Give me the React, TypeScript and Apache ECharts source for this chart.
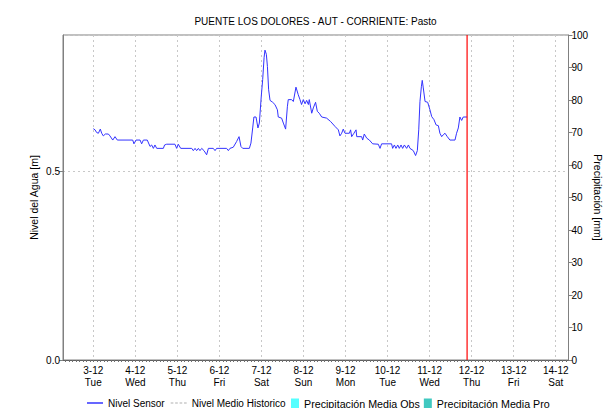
import React, { useEffect, useRef } from "react";
import * as echarts from "echarts";

const TITLE = "PUENTE LOS DOLORES - AUT - CORRIENTE: Pasto";
// x axis is in hours after 3-12 00:00; one tick label per day
const dayTickHours = [0, 24, 48, 72, 96, 120, 144, 168, 192, 216, 240, 264];
const dayLabels = [
  "3-12\nTue", "4-12\nWed", "5-12\nThu", "6-12\nFri", "7-12\nSat", "8-12\nSun",
  "9-12\nMon", "10-12\nTue", "11-12\nWed", "12-12\nThu", "13-12\nFri", "14-12\nSat",
];
const axisMinHours = -17.3;
const axisMaxHours = 271.3;
const levelMax = 0.86;
const nowHours = 213.4;

const sensorHours = [
  0.0, 1.0, 1.9, 2.9, 4.0, 4.8, 5.7, 6.9, 8.6, 9.5, 11.1, 12.4, 13.7, 22.5, 23.2, 24.4,
  26.7, 27.6, 28.6, 30.8, 32.4, 33.3, 34.3, 35.2, 36.2, 40.0, 40.7, 41.9, 46.6, 47.6, 48.5,
  49.9, 56.2, 57.1, 58.1, 59.0, 60.0, 60.9, 61.9, 63.2, 64.7, 65.7, 68.5, 69.5, 70.4, 76.1,
  77.1, 78.0, 79.9, 81.8, 83.2, 84.3, 85.3, 89.1, 90.0, 91.0, 91.7, 92.9, 94.0, 94.8, 95.9,
  96.7, 97.5, 98.0, 98.8, 99.4, 100.1, 100.9, 102.4, 103.7, 105.1, 105.6, 107.5, 108.5,
  109.8, 110.8, 111.3, 113.2, 114.2, 115.7, 117.0, 118.0, 118.9, 119.9, 120.9, 121.8,
  122.8, 123.3, 124.7, 125.6, 126.9, 127.9, 129.0, 130.4, 133.2, 135.5, 138.0, 139.9,
  140.8, 141.8, 142.7, 143.7, 146.2, 146.9, 147.5, 148.8, 150.0, 150.4, 153.2, 153.8,
  154.7, 156.1, 157.6, 159.5, 162.7, 163.7, 164.6, 170.3, 170.9, 171.9, 172.8, 173.8,
  174.7, 175.7, 176.6, 177.6, 178.9, 179.9, 180.8, 182.7, 184.0, 185.0, 185.8, 186.5,
  187.3, 187.8, 188.4, 189.4, 190.9, 192.2, 193.2, 194.5, 195.7, 197.0, 197.9, 198.9,
  199.8, 200.8, 202.1, 203.6, 206.5, 207.4, 208.4, 209.3, 210.3, 211.2, 212.2, 213.4,
];
const sensorLevels = [
  0.612, 0.609, 0.602, 0.6, 0.611, 0.6, 0.593, 0.598, 0.598, 0.593, 0.582, 0.591, 0.582,
  0.582, 0.572, 0.582, 0.582, 0.572, 0.582, 0.582, 0.565, 0.569, 0.56, 0.569, 0.56, 0.56,
  0.569, 0.571, 0.571, 0.56, 0.571, 0.56, 0.56, 0.554, 0.56, 0.554, 0.56, 0.554, 0.56,
  0.554, 0.543, 0.56, 0.56, 0.554, 0.56, 0.56, 0.554, 0.56, 0.563, 0.578, 0.591, 0.565,
  0.56, 0.56, 0.574, 0.614, 0.643, 0.643, 0.614, 0.627, 0.698, 0.742, 0.8, 0.82, 0.809,
  0.777, 0.715, 0.687, 0.682, 0.676, 0.662, 0.643, 0.64, 0.627, 0.611, 0.67, 0.689,
  0.689, 0.684, 0.722, 0.702, 0.689, 0.676, 0.689, 0.678, 0.687, 0.676, 0.689, 0.653,
  0.667, 0.682, 0.658, 0.653, 0.643, 0.64, 0.631, 0.618, 0.609, 0.593, 0.6, 0.611, 0.6,
  0.6, 0.609, 0.591, 0.6, 0.609, 0.591, 0.591, 0.582, 0.598, 0.587, 0.582, 0.572, 0.571,
  0.56, 0.572, 0.572, 0.56, 0.569, 0.56, 0.569, 0.56, 0.569, 0.56, 0.569, 0.56, 0.569,
  0.56, 0.554, 0.541, 0.554, 0.609, 0.684, 0.723, 0.74, 0.72, 0.684, 0.682, 0.662, 0.644,
  0.636, 0.622, 0.62, 0.6, 0.591, 0.596, 0.6, 0.591, 0.582, 0.582, 0.6, 0.614, 0.643,
  0.634, 0.643, 0.643, 0.643,
];
const historicLevels: number[] = [];
const precipObs: number[] = [];
const precipPro: number[] = [];

const FONT = "'Liberation Sans', Arial, sans-serif";

export default function App() {
  const ref = useRef<HTMLDivElement>(null);
  useEffect(() => {
    if (!ref.current) return;
    const chart = echarts.init(ref.current, null, { renderer: "svg" });
    const sensorData = sensorHours.map((h, i) => [h, sensorLevels[i]]);
    const nowLine = [[nowHours, 0], [nowHours, levelMax]];
    const minorTickHours: number[] = [];
    for (let h = -16; h <= axisMaxHours; h += 2) minorTickHours.push(h);

    chart.setOption({
      animation: false,
      backgroundColor: "#ffffff",
      textStyle: { fontFamily: FONT },
      title: {
        text: TITLE,
        left: 315.5,
        textAlign: "center",
        top: 16,
        padding: 0,
        textStyle: { fontSize: 10, fontWeight: "normal", color: "#000", fontFamily: FONT },
      },
      grid: {
        left: 63,
        right: 34.5,
        top: 35,
        bottom: 48,
        show: true,
        borderColor: "#808080",
        borderWidth: 1,
        containLabel: false,
        outerBoundsMode: "none",
      },
      legend: [
        {
          data: [
            { name: "Nivel Sensor", icon: "rect", itemStyle: { color: "#0000ff" } },
            {
              name: "Nivel Medio Historico",
              icon: "path://M0,0h3v1h-3z M5,0h3v1h-3z M10,0h3v1h-3z M15,0h3v1h-3z",
              itemStyle: { color: "#b0b0b0" },
            },
          ],
          left: 87,
          top: 398,
          padding: 0,
          itemWidth: 16,
          itemHeight: 1.2,
          itemGap: 6,
          textStyle: { fontSize: 10, color: "#000", fontFamily: FONT },
        },
        {
          data: [
            { name: "Precipitación Media Obs", icon: "rect" },
            { name: "Precipitación Media Pro", icon: "rect" },
          ],
          left: 291,
          top: 398,
          padding: 0,
          itemWidth: 8,
          itemHeight: 10,
          itemGap: 4,
          textStyle: { fontSize: 10.7, color: "#000", fontFamily: FONT },
        },
      ],
      xAxis: [
        {
          type: "value",
          min: axisMinHours,
          max: axisMaxHours,
          axisLine: { onZero: false, lineStyle: { color: "#606060" } },
          axisTick: { show: false, customValues: dayTickHours },
          splitLine: { show: true, lineStyle: { color: "#c8c8c8", type: [2, 3] } },
          axisLabel: {
            customValues: dayTickHours,
            fontSize: 10,
            color: "#000",
            lineHeight: 12,
            margin: 4,
            formatter: (v: number) => dayLabels[dayTickHours.indexOf(Math.round(v))] ?? "",
          },
        },
        {
          type: "value",
          position: "bottom",
          min: axisMinHours,
          max: axisMaxHours,
          axisLine: { show: false, onZero: false },
          axisTick: { show: true, length: 2, inside: false, customValues: minorTickHours, lineStyle: { color: "#707070" } },
          axisLabel: { show: false },
          splitLine: { show: false },
        },
      ],
      yAxis: [
        {
          type: "value",
          min: 0,
          max: levelMax,
          interval: 0.5,
          name: "Nivel del Agua [m]",
          nameLocation: "middle",
          nameGap: 24,
          nameMoveOverlap: false,
          nameTextStyle: { fontSize: 10.5, color: "#000", fontFamily: FONT },
          axisLine: { show: true, onZero: false, lineStyle: { color: "#808080" } },
          axisTick: { show: true, length: 4, lineStyle: { color: "#808080" } },
          axisLabel: {
            fontSize: 10,
            color: "#000",
            margin: 3,
            showMaxLabel: false,
            formatter: (v: number) => (v === 0 || v === 0.5 ? v.toFixed(1) : ""),
          },
          splitLine: { show: true, lineStyle: { color: "#c8c8c8", type: [2, 3] } },
        },
        {
          type: "value",
          position: "right",
          min: 0,
          max: 100,
          interval: 10,
          name: "Precipitación [mm]",
          nameLocation: "middle",
          nameRotate: -90,
          nameGap: 24,
          nameMoveOverlap: false,
          nameTextStyle: { fontSize: 10.5, color: "#000", fontFamily: FONT },
          axisLine: { show: true, onZero: false, lineStyle: { color: "#808080" } },
          axisTick: { show: true, length: 4, lineStyle: { color: "#808080" } },
          axisLabel: { fontSize: 10, color: "#000", margin: 3 },
          splitLine: { show: false },
        },
      ],
      series: [
        {
          name: "Nivel Sensor",
          type: "line",
          data: sensorData,
          symbol: "none",
          color: "#0000ff",
          lineStyle: { color: "#3333ff", width: 1 },
        },
        {
          name: "Ahora",
          type: "line",
          data: nowLine,
          symbol: "none",
          silent: true,
          color: "#ff0000",
          lineStyle: { color: "#ff0000", width: 1.2 },
          z: 5,
        },
        {
          name: "Nivel Medio Historico",
          type: "line",
          data: historicLevels,
          symbol: "none",
          color: "#b0b0b0",
          lineStyle: { color: "#b0b0b0", width: 1, type: [3, 3] },
        },
        {
          name: "Precipitación Media Obs",
          type: "bar",
          yAxisIndex: 1,
          data: precipObs,
          itemStyle: { color: "#55ffff" },
        },
        {
          name: "Precipitación Media Pro",
          type: "bar",
          yAxisIndex: 1,
          data: precipPro,
          itemStyle: { color: "#40c8c0" },
        },
      ],
    });
    return () => chart.dispose();
  }, []);
  return <div ref={ref} style={{ width: 603, height: 408, position: "absolute", left: 0, top: 0 }} />;
}
